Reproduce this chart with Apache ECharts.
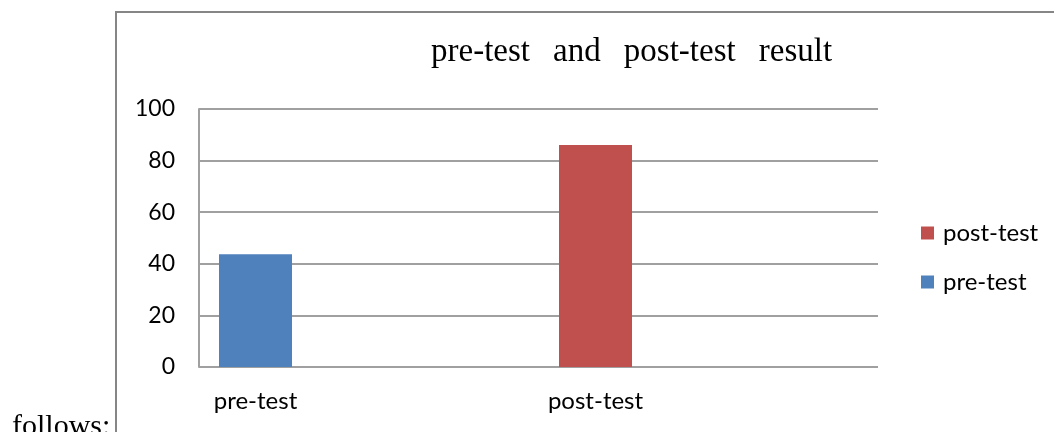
<!DOCTYPE html>
<html>
<head>
<meta charset="utf-8">
<title>pre-test and post-test result</title>
<script src="https://cdn.jsdelivr.net/npm/echarts@6/dist/echarts.min.js"></script>
<style>
  html, body { margin: 0; padding: 0; background: #ffffff; }
  #chart { width: 1054px; height: 432px; }
</style>
</head>
<body>
<div id="chart"></div>
<script>
// Test categories and scores
const categories = ['pre-test', 'post-test'];
const preTestScores = [43.7, '-'];
const postTestScores = ['-', 86];
const yTicks = [0, 20, 40, 60, 80, 100];
const legendOrder = ['post-test', 'pre-test'];

const labelFont = 'Lato, "Liberation Sans", sans-serif';
const serifFont = '"Liberation Serif", "DejaVu Serif", serif';
const gridColor = '#a0a0a0';
// widened word gap used by the justified title
const wordGap = '\u2002\u2009';

const chart = echarts.init(document.getElementById('chart'), null, { renderer: 'canvas' });

chart.setOption({
  animation: false,
  backgroundColor: '#ffffff',
  title: {
    text: ['pre-test', 'and', 'post-test', 'result'].join(wordGap),
    left: 431,
    top: 36,
    padding: 0,
    textStyle: { fontFamily: serifFont, fontSize: 33, fontWeight: 'normal', color: '#000000' }
  },
  legend: {
    data: legendOrder,
    orient: 'vertical',
    left: 921,
    top: 221,
    padding: 0,
    itemWidth: 13,
    itemHeight: 13,
    itemGap: 25,
    icon: 'rect',
    textStyle: { fontFamily: labelFont, fontSize: 24, color: '#000000', padding: [0, 0, 0, 4] }
  },
  grid: [
    // value axis frame and grid lines
    { left: 199, right: 176, top: 109, bottom: 65, containLabel: false },
    // category band for the bars
    { left: 85.5, width: 680, top: 109, bottom: 65, containLabel: false }
  ],
  xAxis: [
    { gridIndex: 0, type: 'category', data: [''], show: false },
    {
      gridIndex: 1,
      type: 'category',
      data: categories,
      axisLine: { show: false },
      axisTick: { show: false },
      axisLabel: { fontFamily: labelFont, fontSize: 24, color: '#000000', margin: 22 }
    }
  ],
  yAxis: [
    {
      gridIndex: 0,
      type: 'value',
      min: yTicks[0],
      max: yTicks[yTicks.length - 1],
      interval: yTicks[1] - yTicks[0],
      axisLine: { show: true, lineStyle: { color: gridColor, width: 2 } },
      axisTick: { show: false },
      axisLabel: { fontFamily: labelFont, fontSize: 23, color: '#000000', margin: 24 },
      splitLine: { show: true, lineStyle: { color: gridColor, width: 2 } }
    },
    {
      gridIndex: 1,
      type: 'value',
      min: yTicks[0],
      max: yTicks[yTicks.length - 1],
      interval: yTicks[1] - yTicks[0],
      show: false,
      splitLine: { show: false }
    }
  ],
  series: [
    {
      name: 'pre-test',
      type: 'bar',
      xAxisIndex: 1,
      yAxisIndex: 1,
      data: preTestScores,
      barWidth: 73,
      barGap: '-100%',
      itemStyle: { color: '#4f81bd' }
    },
    {
      name: 'post-test',
      type: 'bar',
      xAxisIndex: 1,
      yAxisIndex: 1,
      data: postTestScores,
      barWidth: 73,
      barGap: '-100%',
      itemStyle: { color: '#c0504d' }
    }
  ],
  graphic: [
    // chart frame
    {
      type: 'rect',
      silent: true,
      z: -1,
      shape: { x: 116, y: 12, width: 1000, height: 500 },
      style: { fill: 'none', stroke: '#868686', lineWidth: 2 }
    },
    // surrounding document text
    {
      type: 'text',
      silent: true,
      left: 12,
      top: 412,
      style: { text: 'follows:', font: '30px ' + serifFont, fill: '#000000' }
    }
  ]
});
</script>
</body>
</html>
